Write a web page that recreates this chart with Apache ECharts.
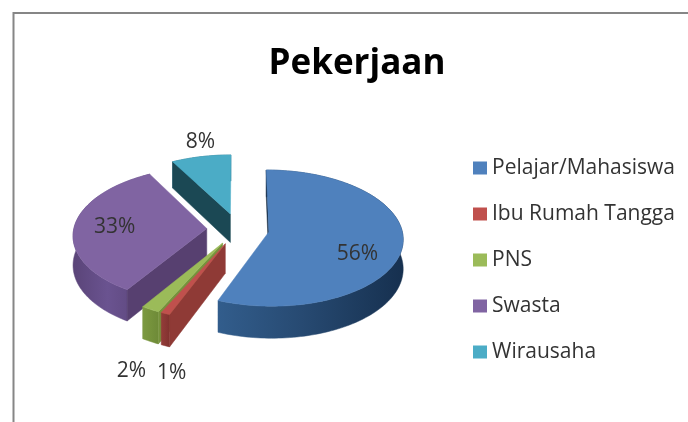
<!DOCTYPE html>
<html>
<head>
<meta charset="utf-8">
<title>Pekerjaan</title>
<script src="https://cdn.jsdelivr.net/npm/echarts@6/dist/echarts.min.js"></script>
<style>
  html, body { margin: 0; padding: 0; background: #fff; }
  #main-chart { width: 688px; height: 422px; }
</style>
</head>
<body>
<div id="main-chart"></div>
<script>
const categories = ['Pelajar/Mahasiswa', 'Ibu Rumah Tangga', 'PNS', 'Swasta', 'Wirausaha'];
const percentages = [56, 1, 2, 33, 8];

// colours per slice, same order as categories
const topColors = ['#4f81bd', '#c0504d', '#9bbb59', '#8064a2', '#4bacc6'];
const wallColors = [
    ['#325d8c', '#274a72', '#16304f'],
    ['#943c39', '#8c3835', '#7f312e'],
    ['#7c9a42', '#76933c', '#6e8a38'],
    ['#5a4478', '#6a5390', '#5a4478'],
    ['#2b7186', '#2b7186', '#2b7186']
];
const sideColors = ['#14293f', '#8f3a36', '#76933c', '#574070', '#1b4854'];

// back to front
const drawOrder = [4, 3, 0, 2, 1];

const labelRadius = [0.68, 1.1, 1.1, 0.68, 1.1];
const labelNudge = [[-2, 13], [13, 52], [-11, 54], [-2, 0], [2, -9]];

const cx = 238, cy = 229, rx = 133, ry = 67, perspective = 0.09;
const explode = 0.235, depth = 29;

const total = percentages.reduce((a, b) => a + b, 0);

function project(u, v) {
    const s = 1 / (1 - perspective * v);
    return [cx + u * rx * s, cy + v * ry * s, s];
}

function drop(p) {
    return [p[0], p[1] + depth * p[2]];
}

function polygon(points, fill) {
    return {
        type: 'polygon',
        shape: { points: points },
        style: { fill: fill, stroke: fill, lineWidth: 0.5 }
    };
}

function wallGradient(colors) {
    return new echarts.graphic.LinearGradient(0, 0, 1, 0, [
        { offset: 0, color: colors[0] },
        { offset: 0.45, color: colors[1] },
        { offset: 1, color: colors[2] }
    ]);
}

function renderSlice(index, api) {
    const value = api.value(0);
    const before = percentages.slice(0, index).reduce((a, b) => a + b, 0);
    const start = before / total * Math.PI * 2;
    const end = (before + value) / total * Math.PI * 2;
    const mid = (start + end) / 2;
    const ou = Math.sin(mid) * explode;
    const ov = -Math.cos(mid) * explode;

    const arc = [];
    const steps = Math.max(2, Math.ceil((end - start) * 40));
    for (let i = 0; i <= steps; i++) {
        const a = start + (end - start) * i / steps;
        arc.push(project(ou + Math.sin(a), ov - Math.cos(a)));
    }
    const apex = project(ou, ov);
    const first = arc[0];
    const last = arc[arc.length - 1];

    // only the cut faces turned towards the viewer get drawn
    const sides = [];
    if (Math.sin(start) <= 1e-6) {
        sides.push(polygon([apex, first, drop(first), drop(apex)].map(p => [p[0], p[1]]), sideColors[index]));
    }
    if (Math.sin(end) > 1e-6) {
        sides.push(polygon([apex, last, drop(last), drop(apex)].map(p => [p[0], p[1]]), sideColors[index]));
    }

    const wall = arc.map(p => [p[0], p[1]]).concat(arc.slice().reverse().map(drop));
    const top = [[apex[0], apex[1]]].concat(arc.map(p => [p[0], p[1]]));

    const labelAt = project(ou + Math.sin(mid) * labelRadius[index], ov - Math.cos(mid) * labelRadius[index]);

    return {
        type: 'group',
        children: [polygon(wall, wallGradient(wallColors[index]))].concat(sides, [
            polygon(top, topColors[index]),
            {
                type: 'text',
                style: {
                    text: value + '%',
                    x: labelAt[0] + labelNudge[index][0],
                    y: labelAt[1] + labelNudge[index][1],
                    align: 'center',
                    verticalAlign: 'middle',
                    fill: '#333',
                    font: '21px "Open Sans", sans-serif'
                }
            }
        ])
    };
}

document.addEventListener('DOMContentLoaded', () => {
    const chartDom = document.getElementById('main-chart');
    const chart = echarts.init(chartDom);

    chart.setOption({
        animation: false,
        backgroundColor: '#fff',
        title: {
            text: 'Pekerjaan',
            left: 352,
            top: 42,
            textAlign: 'center',
            textStyle: { fontFamily: '"Open Sans", sans-serif', fontSize: 35, fontWeight: 'bold', color: '#000' }
        },
        legend: {
            orient: 'vertical',
            left: 473,
            top: 155,
            padding: 0,
            selectedMode: false,
            icon: 'rect',
            itemWidth: 14,
            itemHeight: 13,
            itemGap: 20,
            data: categories,
            textStyle: { fontFamily: '"Open Sans", sans-serif', fontSize: 21, color: '#333', lineHeight: 26 }
        },
        graphic: [{
            type: 'rect',
            shape: { x: 13.5, y: 13, width: 720, height: 460 },
            style: { fill: 'none', stroke: '#868686', lineWidth: 2 }
        }],
        series: categories.map((name, i) => ({
            type: 'custom',
            name: name,
            coordinateSystem: 'none',
            z: 2 + drawOrder.indexOf(i),
            itemStyle: { color: topColors[i] },
            data: [[percentages[i]]],
            renderItem: (params, api) => renderSlice(i, api)
        }))
    });
});
</script>
</body>
</html>
